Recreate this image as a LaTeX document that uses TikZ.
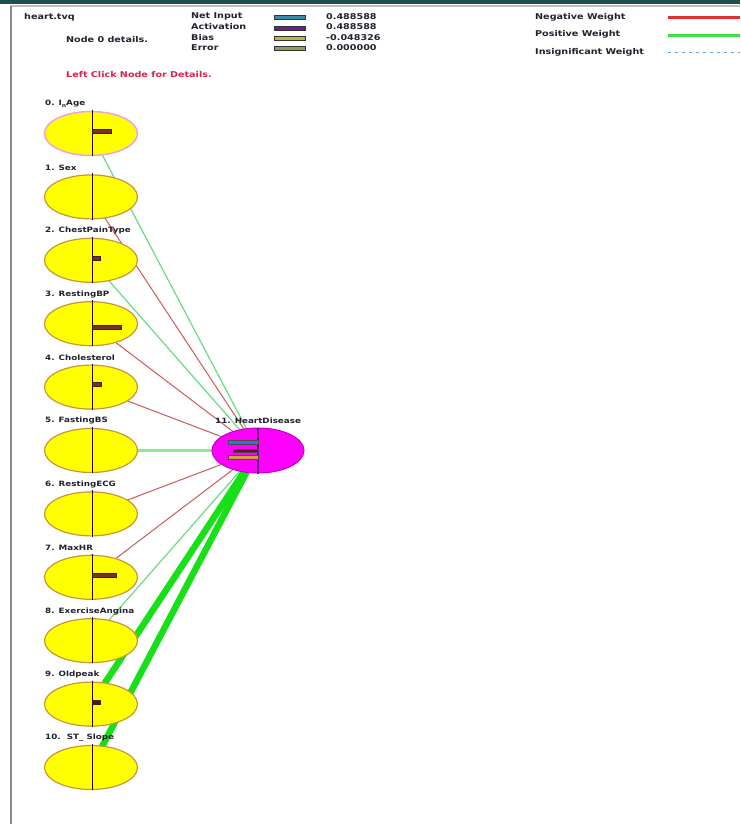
\documentclass[tikz,border=0pt]{standalone}
\usepackage{fontspec}
\newfontfamily\lbl{DejaVu Sans Bold}[FakeStretch=1.2]
\usetikzlibrary{shapes.geometric,backgrounds}
\definecolor{txt}{HTML}{22222E}
\definecolor{chrome}{HTML}{1F4F4A}
\definecolor{framec}{HTML}{8A8A8A}
\definecolor{infill}{HTML}{FFFF00}
\definecolor{inborder}{HTML}{C8963A}
\definecolor{selborder}{HTML}{F0A0E0}
\definecolor{outfill}{HTML}{FF00FF}
\definecolor{outborder}{HTML}{C000C0}
\definecolor{outline}{HTML}{6A0A7A}
\definecolor{barc}{HTML}{7A2E2E}
\definecolor{negc}{HTML}{CC5A5A}
\definecolor{posc}{HTML}{6ADC82}
\definecolor{poswc}{HTML}{8CEB8C}
\definecolor{posxc}{HTML}{18E018}
\definecolor{legneg}{HTML}{E03030}
\definecolor{legpos}{HTML}{40E040}
\definecolor{legins}{HTML}{60A8E0}
\definecolor{clickc}{HTML}{E0204A}
\definecolor{netc}{HTML}{3A8AA8}
\definecolor{actc}{HTML}{6A1A9A}
\definecolor{biasc}{HTML}{C0B048}
\definecolor{errc}{HTML}{989858}
\definecolor{obluec}{HTML}{4868E0}
\definecolor{odarkc}{HTML}{5A1A2A}
\definecolor{oyelc}{HTML}{D0A040}
\begin{document}
\begin{tikzpicture}[x=1pt,y=-1pt,
  inp/.style={ellipse,draw=inborder,fill=infill,line width=1.2pt,minimum width=93pt,minimum height=44pt,inner sep=0pt},
  outn/.style={ellipse,draw=outborder,fill=outfill,line width=1pt,minimum width=92pt,minimum height=45pt,inner sep=0pt},
  htxt/.style={font=\lbl\fontsize{8}{9}\selectfont,text=txt,inner sep=0pt,anchor=west},
  nlab/.style={font=\lbl\fontsize{7.3}{8}\selectfont,text=txt,inner sep=0pt,anchor=west},
  vline/.style={draw=black!85!red,line width=1.2pt},
  nbar/.style={fill=barc,draw=barc!60!black,line width=0.4pt},
  negline/.style={draw=negc,line width=1pt},
  posline/.style={draw=posc,line width=1.2pt},
  poswline/.style={draw=poswc,line width=2.5pt},
  posxline/.style={draw=posxc,line width=6.5pt},
  hbar/.style={draw=black!80,line width=0.8pt}
]
\useasboundingbox (0,0) rectangle (740,824);
% window chrome
\fill[chrome] (0,0) rectangle (740,4.5);
\draw[black!25,line width=1.5pt] (10,6) -- (740,6);
\draw[framec,line width=2pt] (11,6) -- (11,824);

% header
\node[htxt] (file) at (24,17.5) {heart.tvq};
\node[htxt] (det) at (66,40) {Node 0 details.};
\node[htxt,text=clickc] (click) at (66,75) {Left Click Node for Details.};
\node[htxt] (l1) at (191,16.5) {Net Input};
\node[htxt] (l2) at (191,27) {Activation};
\node[htxt] (l3) at (191,37.5) {Bias};
\node[htxt] (l4) at (191,47.5) {Error};
\filldraw[hbar,fill=netc] (274,15.5) rectangle (305,19.5);
\filldraw[hbar,fill=actc] (274,26) rectangle (305,30);
\filldraw[hbar,fill=biasc] (274,36.5) rectangle (305,40.5);
\filldraw[hbar,fill=errc] (274,46.5) rectangle (305,50.5);
\node[htxt] (v1) at (326,16.5) {0.488588};
\node[htxt] (v2) at (326,27) {0.488588};
\node[htxt] (v3) at (326,37.5) {-0.048326};
\node[htxt] (v4) at (326,47.5) {0.000000};
\node[htxt] (g1) at (535,17) {Negative Weight};
\node[htxt] (g2) at (535,34.5) {Positive Weight};
\node[htxt] (g3) at (535,52) {Insignificant Weight};
\coordinate (g1a) at (668,18); \coordinate (g1b) at (740,18);
\coordinate (g2a) at (668,35.5); \coordinate (g2b) at (740,35.5);
\coordinate (g3a) at (668,53); \coordinate (g3b) at (740,53);
\draw[legneg,line width=3pt] (g1a) -- (g1b);
\draw[legpos,line width=3pt] (g2a) -- (g2b);
\draw[legins,line width=1pt,dash pattern=on 3pt off 4pt] (g3a) -- (g3b);

% input nodes
\node[inp,draw=selborder,line width=1.5pt] (in0) at (91,133.5) {};
\node[inp] (in1) at (91,196.9) {};
\node[inp] (in2) at (91,260.3) {};
\node[inp] (in3) at (91,323.7) {};
\node[inp] (in4) at (91,387.1) {};
\node[inp] (in5) at (91,450.5) {};
\node[inp] (in6) at (91,513.9) {};
\node[inp] (in7) at (91,577.3) {};
\node[inp] (in8) at (91,640.7) {};
\node[inp] (in9) at (91,704.1) {};
\node[inp] (in10) at (91,767.5) {};
\foreach \i in {0,...,10}{
  \draw[vline] ([xshift=1.5pt,yshift=1pt]in\i.north) -- ([xshift=1.5pt]in\i.south);
}
% labels
\node[nlab] (t0) at (45,104) {0. I\raisebox{-1.5pt}{\fontsize{5}{5}\selectfont n}Age};
\node[nlab] (t1) at (45,167.4) {1. Sex};
\node[nlab] (t2) at (45,230.8) {2. ChestPainType};
\node[nlab] (t3) at (45,294.2) {3. RestingBP};
\node[nlab] (t4) at (45,357.6) {4. Cholesterol};
\node[nlab] (t5) at (45,421) {5. FastingBS};
\node[nlab] (t6) at (45,484.4) {6. RestingECG};
\node[nlab] (t7) at (45,547.8) {7. MaxHR};
\node[nlab] (t8) at (45,611.2) {8. ExerciseAngina};
\node[nlab] (t9) at (45,674.6) {9. Oldpeak};
\node[nlab] (t10) at (45,738) {10.\ \ ST\_ Slope};
% bars in input nodes
\filldraw[nbar] ([xshift=1.5pt,yshift=4pt]in0.center) rectangle ++(19,4);
\filldraw[nbar] ([xshift=1.5pt,yshift=4pt]in2.center) rectangle ++(8,4);
\filldraw[nbar] ([xshift=1.5pt,yshift=-1pt]in3.center) rectangle ++(29,4);
\filldraw[nbar] ([xshift=1.5pt,yshift=5pt]in4.center) rectangle ++(9,4);
\filldraw[nbar] ([xshift=1.5pt,yshift=4pt]in7.center) rectangle ++(24,4);
\filldraw[nbar,fill=barc!60!black] ([xshift=1.5pt,yshift=4pt]in9.center) rectangle ++(8,4);

% output node
\node[outn] (out) at (258,450.5) {};
\draw[draw=outline,line width=1.2pt] (out.north) -- (out.south);
\filldraw[draw=black!70,fill=obluec,line width=0.6pt] ([xshift=-30pt,yshift=10pt]out.center) rectangle ++(30,4);
\filldraw[draw=black!70,fill=odarkc,line width=0.6pt] ([xshift=-25pt,yshift=1pt]out.center) rectangle ++(25,3);
\filldraw[draw=black!70,fill=oyelc,line width=0.6pt] ([xshift=-30pt,yshift=-4.5pt]out.center) rectangle ++(30,4);
\node[nlab,anchor=west] (t11) at (215,421) {11. HeartDisease};

% connectors
\begin{pgfonlayer}{background}
\fill[white] (0,0) rectangle (740,824);
\draw[posline] (in0.center) -- (out.center);
\draw[negline] (in1.center) -- (out.center);
\draw[posline] (in2.center) -- (out.center);
\draw[negline] (in3.center) -- (out.center);
\draw[negline] (in4.center) -- (out.center);
\draw[poswline] (in5.center) -- (out.center);
\draw[negline] (in6.center) -- (out.center);
\draw[negline] (in7.center) -- (out.center);
\draw[posline] (in8.center) -- (out.center);
\draw[posxline] (in9.center) -- (out.center);
\draw[posxline] (in10.center) -- (out.center);
\end{pgfonlayer}
\end{tikzpicture}
\end{document}
